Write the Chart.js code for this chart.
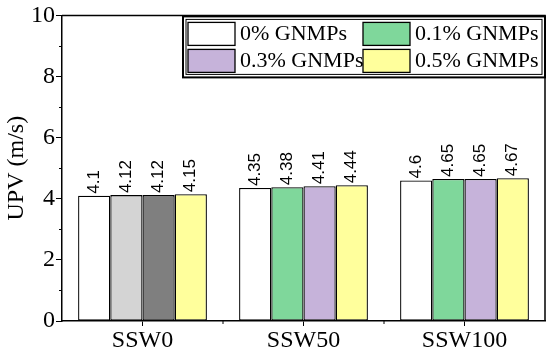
<!DOCTYPE html>
<html lang="en">
<head>
    <meta charset="UTF-8">
    <title>UPV bar chart</title>
    <script src="https://cdn.jsdelivr.net/npm/chart.js"></script>
    <style>
        html, body { margin: 0; padding: 0; background: #fff; }
        #wrap { width: 550px; height: 353px; position: relative; }
    </style>
</head>
<body>
    <div id="wrap"><canvas id="barChart"></canvas></div>

    <script>
        // data
        const categories = ['SSW0', 'SSW50', 'SSW100'];
        const seriesNames = ['0% GNMPs', '0.1% GNMPs', '0.3% GNMPs', '0.5% GNMPs'];
        const upv0 = [4.1, 4.35, 4.6];
        const upv01 = [4.12, 4.38, 4.65];
        const upv03 = [4.12, 4.41, 4.65];
        const upv05 = [4.15, 4.44, 4.67];
        const valueLabels = [
            ['4.1', '4.35', '4.6'],
            ['4.12', '4.38', '4.65'],
            ['4.12', '4.41', '4.65'],
            ['4.15', '4.44', '4.67']
        ];
        const yTicks = [0, 2, 4, 6, 8, 10];

        // colours (SSW0 group uses greys for the middle two bars)
        const legendColors = ['#ffffff', '#7fd79b', '#c6b3da', '#ffff9c'];
        const barColors = [
            ['#ffffff', '#ffffff', '#ffffff'],
            ['#d4d4d4', '#7fd79b', '#7fd79b'],
            ['#7f7f7f', '#c6b3da', '#c6b3da'],
            ['#ffff9c', '#ffff9c', '#ffff9c']
        ];

        const seriesValues = [upv0, upv01, upv03, upv05];
        const serif = "'Liberation Serif', 'Times New Roman', serif";
        const sans = "'Liberation Sans', Arial, sans-serif";

        // frame, minor ticks, value labels and the boxed legend
        const extras = {
            id: 'extras',
            afterDatasetsDraw(chart) {
                const ctx = chart.ctx;
                const area = chart.chartArea;
                const x = chart.scales.x;
                const y = chart.scales.y;
                ctx.save();

                // value labels, rotated
                ctx.fillStyle = '#000';
                ctx.font = '17px ' + sans;
                ctx.textAlign = 'left';
                ctx.textBaseline = 'middle';
                chart.data.datasets.forEach((ds, i) => {
                    chart.getDatasetMeta(i).data.forEach((bar, j) => {
                        ctx.save();
                        ctx.translate(bar.x, bar.y - 2);
                        ctx.rotate(-Math.PI / 2);
                        ctx.fillText(valueLabels[i][j], 0, 0);
                        ctx.restore();
                    });
                });

                // top and right frame
                ctx.strokeStyle = '#000';
                ctx.lineWidth = 1.5;
                ctx.beginPath();
                ctx.moveTo(area.left, area.top);
                ctx.lineTo(area.right, area.top);
                ctx.lineTo(area.right, area.bottom);
                ctx.stroke();

                // minor ticks on y
                ctx.lineWidth = 1;
                for (let v = 1; v < 10; v += 2) {
                    const py = Math.round(y.getPixelForValue(v)) + 0.5;
                    ctx.beginPath();
                    ctx.moveTo(area.left - 3, py);
                    ctx.lineTo(area.left, py);
                    ctx.stroke();
                }
                // minor ticks on x at category boundaries
                for (let j = 0; j < categories.length - 1; j++) {
                    const px = (x.getPixelForValue(j) + x.getPixelForValue(j + 1)) / 2;
                    ctx.beginPath();
                    ctx.moveTo(px, area.bottom);
                    ctx.lineTo(px, area.bottom + 3);
                    ctx.stroke();
                }

                // legend box
                const lx = 183, ly = area.top + 1, lw = area.right - 183, lh = 61;
                ctx.lineWidth = 2;
                ctx.strokeRect(lx, ly, lw, lh);
                ctx.lineWidth = 1;
                ctx.strokeRect(lx + 3, ly + 3, lw - 6, lh - 6);
                ctx.font = '22px ' + serif;
                ctx.textBaseline = 'middle';
                const cols = [188, 363];
                const rows = [ly + 6, ly + 33];
                seriesNames.forEach((name, i) => {
                    const cx = cols[i % 2];
                    const cy = rows[Math.floor(i / 2)];
                    ctx.fillStyle = legendColors[i];
                    ctx.fillRect(cx, cy, 47, 23);
                    ctx.lineWidth = 1.3;
                    ctx.strokeRect(cx, cy, 47, 23);
                    ctx.fillStyle = '#000';
                    ctx.fillText(name, cx + 52, cy + 12);
                });
                ctx.restore();
            }
        };

        const ctx = document.getElementById('barChart').getContext('2d');
        new Chart(ctx, {
            type: 'bar',
            data: {
                labels: categories,
                datasets: seriesNames.map((name, i) => ({
                    label: name,
                    data: seriesValues[i],
                    backgroundColor: barColors[i],
                    borderColor: '#000',
                    borderWidth: 1.3,
                    borderSkipped: false,
                    categoryPercentage: 0.8,
                    barPercentage: 1.0
                }))
            },
            options: {
                responsive: true,
                maintainAspectRatio: false,
                animation: false,
                layout: { padding: { top: 14, right: 5, left: 0, bottom: 0 } },
                plugins: {
                    legend: { display: false },
                    tooltip: { enabled: false }
                },
                scales: {
                    x: {
                        afterFit(scale) { scale.height = 32; },
                        border: { color: '#000', width: 1.5 },
                        grid: {
                            offset: false,
                            drawOnChartArea: false,
                            drawTicks: true,
                            tickLength: 5,
                            tickColor: '#000',
                            tickWidth: 1
                        },
                        ticks: {
                            color: '#000',
                            padding: 0,
                            font: { family: serif, size: 24 }
                        }
                    },
                    y: {
                        min: 0,
                        max: 10,
                        afterFit(scale) { scale.width = 62; },
                        afterBuildTicks(scale) {
                            scale.ticks = yTicks.map(v => ({ value: v }));
                        },
                        border: { color: '#000', width: 1.5 },
                        grid: {
                            drawOnChartArea: false,
                            drawTicks: true,
                            tickLength: 6,
                            tickColor: '#000',
                            tickWidth: 1
                        },
                        ticks: {
                            color: '#000',
                            padding: 1,
                            font: { family: serif, size: 24 }
                        },
                        title: {
                            display: true,
                            text: 'UPV (m/s)',
                            color: '#000',
                            padding: { top: 2, bottom: 0 },
                            font: { family: serif, size: 24 }
                        }
                    }
                }
            },
            plugins: [extras]
        });
    </script>
</body>
</html>
